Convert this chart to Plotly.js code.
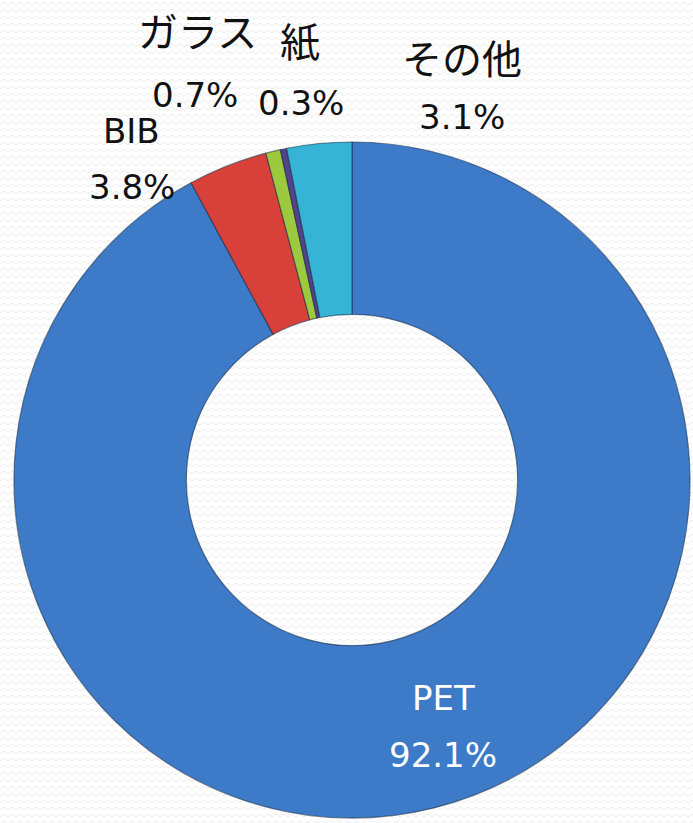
<!DOCTYPE html>
<html>
<head>
<meta charset="utf-8">
<script src="https://cdn.plot.ly/plotly-3.0.1.min.js"></script>
<style>
  html, body { margin: 0; padding: 0; }
  body {
    width: 693px; height: 823px; overflow: hidden;
    background-color: #ffffff;
    background-image: url("data:image/svg+xml;utf8,<svg xmlns='http://www.w3.org/2000/svg' width='8' height='7'><polyline points='0,5 4,2 8,5' fill='none' stroke='%23ebebeb' stroke-width='1'/></svg>");
  }
  #chart { width: 693px; height: 823px; }
</style>
</head>
<body>
<div id="chart"></div>
<script>
// ---- data ----
const categories = ["PET", "BIB", "ガラス", "紙", "その他"];
const shares = [92.1, 3.8, 0.7, 0.3, 3.1];

// ---- styles ----
const sliceColors = ["#3d7bc8", "#d8403a", "#9cc93e", "#54438a", "#36b4d6"];
// label placement (paper pixel centres) for name line and value line
const labelLayout = [
  { nx: 443, ny: 698, vx: 443, vy: 755, color: "#ffffff", nsize: 34 },
  { nx: 131, ny: 131, vx: 132, vy: 187, color: "#111111", nsize: 34 },
  { nx: 197, ny: 33,  vx: 195, vy: 95,  color: "#111111", nsize: 40 },
  { nx: 300, ny: 43,  vx: 301, vy: 103, color: "#111111", nsize: 40 },
  { nx: 462, ny: 60,  vx: 462, vy: 117, color: "#111111", nsize: 40 }
];

const W = 693, H = 823;
const cx = 352, cy = 480, R = 338;
const fontFam = "DejaVu Sans, Noto Sans CJK JP, sans-serif";

const annotations = [];
categories.forEach((c, i) => {
  const L = labelLayout[i];
  annotations.push({
    xref: "paper", yref: "paper", x: L.nx / W, y: 1 - L.ny / H,
    xanchor: "center", yanchor: "middle", showarrow: false,
    text: c, font: { family: fontFam, size: L.nsize, color: L.color }
  });
  annotations.push({
    xref: "paper", yref: "paper", x: L.vx / W, y: 1 - L.vy / H,
    xanchor: "center", yanchor: "middle", showarrow: false,
    text: shares[i].toFixed(1) + "%", font: { family: fontFam, size: 34, color: L.color }
  });
});

const trace = {
  type: "pie",
  labels: categories,
  values: shares,
  hole: 0.49,
  sort: false,
  direction: "clockwise",
  rotation: 0,
  textinfo: "none",
  hoverinfo: "label+percent",
  marker: { colors: sliceColors, line: { color: "rgba(20,40,70,0.55)", width: 1.2 } },
  domain: { x: [(cx - R) / W, (cx + R) / W], y: [(H - cy - R) / H, (H - cy + R) / H] },
  showlegend: false
};

const layout = {
  width: W, height: H,
  margin: { l: 0, r: 0, t: 0, b: 0 },
  paper_bgcolor: "rgba(0,0,0,0)",
  plot_bgcolor: "rgba(0,0,0,0)",
  showlegend: false,
  annotations: annotations
};

Plotly.newPlot("chart", [trace], layout, { displayModeBar: false, staticPlot: true });
</script>
</body>
</html>
